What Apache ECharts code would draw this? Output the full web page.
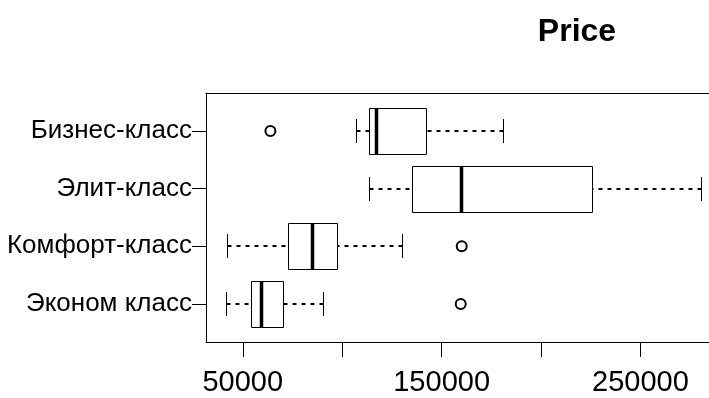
<!DOCTYPE html>
<html>
<head>
<meta charset="utf-8">
<script src="https://cdn.jsdelivr.net/npm/echarts@6/dist/echarts.min.js"></script>
<style>
  html, body { margin: 0; padding: 0; background: #fff; }
  #chart { width: 709px; height: 398px; }
</style>
</head>
<body>
<div id="chart"></div>
<script>
// categories from bottom to top (R draws the first group at the bottom)
const categories = ['Эконом класс', 'Комфорт-класс', 'Элит-класс', 'Бизнес-класс'];
const lowerWhisker = [41600, 42200, 113300, 107000];
const q1 = [54200, 72500, 135200, 113300];
const median = [59200, 84600, 159900, 117000];
const q3 = [70000, 97400, 225500, 142300];
const upperWhisker = [90100, 130200, 280600, 180900];

// outliers: value and the group they belong to
const outlierValues = [159600, 160100, 63900];
const outlierGroup = [0, 1, 3];

const xTicks = [50000, 100000, 150000, 200000, 250000];
const xLabels = [50000, 150000, 250000];

const font = "'Liberation Sans', Arial, sans-serif";

let boxData = [];
for (let i = 0; i < categories.length; i++) {
  boxData.push([i + 1, lowerWhisker[i], q1[i], median[i], q3[i], upperWhisker[i]]);
}
let outlierData = [];
for (let i = 0; i < outlierValues.length; i++) {
  outlierData.push([outlierValues[i], outlierGroup[i] + 1]);
}

// snap to half pixels so 1px lines stay sharp
function px (v) {
  return Math.round(v) + 0.5;
}

function renderBox (params, api) {
  let y = api.value(0);
  let pLw = api.coord([api.value(1), y]);
  let pQ1 = api.coord([api.value(2), y]);
  let pMed = api.coord([api.value(3), y]);
  let pQ3 = api.coord([api.value(4), y]);
  let pUw = api.coord([api.value(5), y]);
  let half = Math.round(Math.abs(api.coord([0, y + 0.4])[1] - pMed[1]));
  let cap = Math.round(half / 2);
  let cy = Math.round(pMed[1]);
  let dash = { stroke: '#000', lineWidth: 2, lineDash: [4, 5] };
  let thin = { stroke: '#000', lineWidth: 1 };
  let x1 = px(pQ1[0]);
  let x3 = px(pQ3[0]);
  return {
    type: 'group',
    children: [
      { type: 'line', shape: { x1: px(pLw[0]), y1: cy, x2: x1, y2: cy }, style: dash },
      { type: 'line', shape: { x1: px(pUw[0]), y1: cy, x2: x3, y2: cy }, style: dash },
      { type: 'line', shape: { x1: px(pLw[0]), y1: cy - cap, x2: px(pLw[0]), y2: cy + cap }, style: thin },
      { type: 'line', shape: { x1: px(pUw[0]), y1: cy - cap, x2: px(pUw[0]), y2: cy + cap }, style: thin },
      { type: 'rect', shape: { x: x1, y: cy - half + 0.5, width: x3 - x1, height: half * 2 },
        style: { fill: '#fff', stroke: '#000', lineWidth: 1 } },
      { type: 'line', shape: { x1: px(pMed[0]), y1: cy - half, x2: px(pMed[0]), y2: cy + half + 1 },
        style: { stroke: '#000', lineWidth: 3.5 } }
    ]
  };
}

let chart = echarts.init(document.getElementById('chart'));
let axisLine = { show: true, lineStyle: { color: '#000', width: 1 } };
let option = {
  animation: false,
  backgroundColor: '#fff',
  title: {
    text: 'Price',
    left: 572,
    top: 11,
    textAlign: 'center',
    textStyle: { fontFamily: font, fontSize: 32, fontWeight: 'bold', color: '#000' }
  },
  grid: {
    show: false,
    left: 206,
    top: 93,
    bottom: 56,
    right: -12,
    containLabel: false,
    outerBoundsMode: 'none'
  },
  xAxis: [
    {
      type: 'value',
      position: 'bottom',
      min: 31500,
      max: 290500,
      axisLine: axisLine,
      splitLine: { show: false },
      axisTick: {
        show: true, inside: false, length: 15,
        customValues: xTicks,
        lineStyle: { color: '#000', width: 1 }
      },
      axisLabel: {
        customValues: xLabels,
        margin: 26,
        color: '#000',
        fontFamily: font,
        fontSize: 29,
        formatter: function (v) {
          return String(v);
        }
      }
    },
    {
      // top edge of the plot box
      type: 'value',
      position: 'top',
      min: 31500,
      max: 290500,
      axisLine: axisLine,
      axisTick: { show: false },
      axisLabel: { show: false },
      splitLine: { show: false }
    }
  ],
  yAxis: {
    type: 'value',
    min: 0.34,
    max: 4.66,
    axisLine: axisLine,
    splitLine: { show: false },
    axisTick: {
      show: true, inside: false, length: 14,
      customValues: [1, 2, 3, 4],
      lineStyle: { color: '#000', width: 1 }
    },
    axisLabel: {
      customValues: [1, 2, 3, 4],
      margin: 14,
      color: '#000',
      fontFamily: font,
      fontSize: 26,
      formatter: function (v) {
        return categories[Math.round(v) - 1];
      }
    }
  },
  series: [
    {
      type: 'custom',
      renderItem: renderBox,
      encode: { x: [1, 2, 3, 4, 5], y: 0 },
      data: boxData,
      z: 2
    },
    {
      type: 'scatter',
      symbol: 'circle',
      symbolSize: 10,
      itemStyle: { color: '#fff', borderColor: '#000', borderWidth: 2, opacity: 1 },
      data: outlierData,
      z: 3
    }
  ]
};
chart.setOption(option);
</script>
</body>
</html>
